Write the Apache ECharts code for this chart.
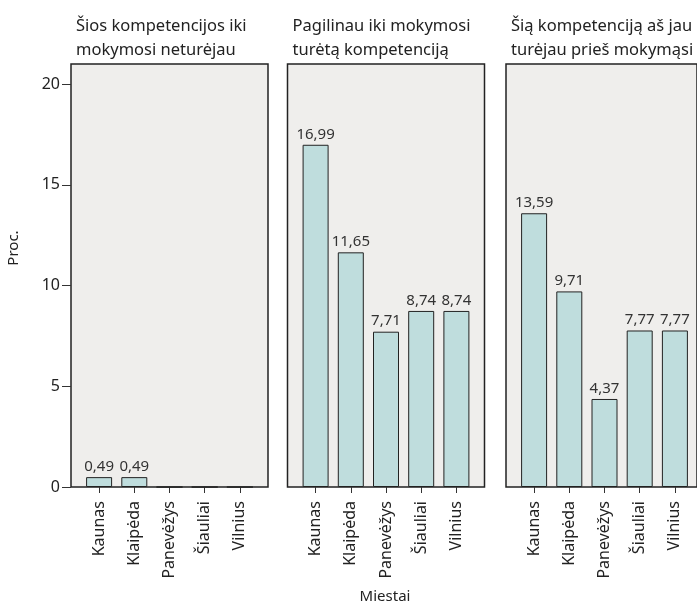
<!DOCTYPE html>
<html>
<head>
<meta charset="utf-8">
<script src="https://cdn.jsdelivr.net/npm/echarts@6/dist/echarts.min.js"></script>
<style>
  html, body { margin: 0; padding: 0; background: #ffffff; }
  #chart { width: 697px; height: 606px; }
</style>
</head>
<body>
<div id="chart"></div>
<script>
// Cities on the horizontal axis of each panel
const cities = ['Kaunas', 'Klaipėda', 'Panevėžys', 'Šiauliai', 'Vilnius'];

// Panel headings
const panelTitles = [
  'Šios kompetencijos iki\nmokymosi neturėjau',
  'Pagilinau iki mokymosi\nturėtą kompetenciją',
  'Šią kompetenciją aš jau\nturėjau prieš mokymąsi'
];

// Percentages per panel
const noCompetence = [0.49, 0.49, 0, 0, 0];
const deepened = [16.99, 11.65, 7.71, 8.74, 8.74];
const alreadyHad = [13.59, 9.71, 4.37, 7.77, 7.77];

const yTicks = [0, 5, 10, 15, 20];
const yMax = 21;

const FONT = '"Noto Sans", "Open Sans", sans-serif';
const panelLefts = [71, 287.5, 506];
const panelWidth = 197;
const inset = 10.5;
const plotTop = 64, plotBottom = 119;

const panelData = [noCompetence, deepened, alreadyHad];

const grids = [], xAxes = [], yAxes = [], series = [], titles = [];

panelLefts.forEach((L, p) => {
  // frame of the panel
  grids.push({
    left: L, width: panelWidth, top: plotTop, bottom: plotBottom,
    show: true, backgroundColor: '#efeeec',
    borderColor: '#222', borderWidth: 1.5
  });
  // inner plotting area for the bars
  grids.push({
    left: L + inset, width: panelWidth - 2 * inset, top: plotTop, bottom: plotBottom,
    show: false
  });
  const g = p * 2;
  xAxes.push({ gridIndex: g, type: 'value', show: false, min: 0, max: 1 });
  yAxes.push({
    gridIndex: g, type: 'value', min: 0, max: yMax,
    show: p === 0,
    axisLine: { show: false },
    splitLine: { show: false },
    axisTick: { show: true, length: 9, customValues: yTicks, lineStyle: { color: '#333', width: 1 } },
    axisLabel: { customValues: yTicks, color: '#222', fontSize: 16, fontFamily: FONT, margin: 11 }
  });
  xAxes.push({
    gridIndex: g + 1, type: 'category', data: cities,
    axisLine: { show: false },
    axisTick: { show: true, alignWithLabel: true, length: 6, lineStyle: { color: '#333', width: 1 } },
    axisLabel: { rotate: 90, margin: 14, color: '#222', fontSize: 16, fontFamily: FONT }
  });
  yAxes.push({ gridIndex: g + 1, type: 'value', min: 0, max: yMax, show: false });
  series.push({
    type: 'bar', xAxisIndex: p * 2 + 1, yAxisIndex: p * 2 + 1,
    data: panelData[p], barWidth: 26,
    itemStyle: { color: '#bfdddd', borderColor: '#222', borderWidth: 1 },
    label: {
      show: true, position: 'top', distance: 3,
      color: '#333', fontSize: 15, fontFamily: FONT,
      formatter: (d) => d.value ? d.value.toFixed(2).replace('.', ',') : ''
    }
  });
  titles.push({
    text: panelTitles[p], left: L, top: 9,
    textStyle: { fontSize: 16.5, fontWeight: 'normal', color: '#222', fontFamily: FONT, lineHeight: 24 }
  });
});

const chart = echarts.init(document.getElementById('chart'), null, { renderer: 'canvas' });
chart.setOption({
  animation: false,
  title: titles,
  grid: grids,
  xAxis: xAxes,
  yAxis: yAxes,
  series: series,
  graphic: [
    {
      type: 'text', x: 14, y: 248, rotation: Math.PI / 2,
      style: { text: 'Proc.', fill: '#222', fontSize: 15, fontFamily: FONT, align: 'center', verticalAlign: 'middle' }
    },
    {
      type: 'text', x: 385, y: 597,
      style: { text: 'Miestai', fill: '#222', fontSize: 15, fontFamily: FONT, align: 'center', verticalAlign: 'middle' }
    }
  ]
});
</script>
</body>
</html>
